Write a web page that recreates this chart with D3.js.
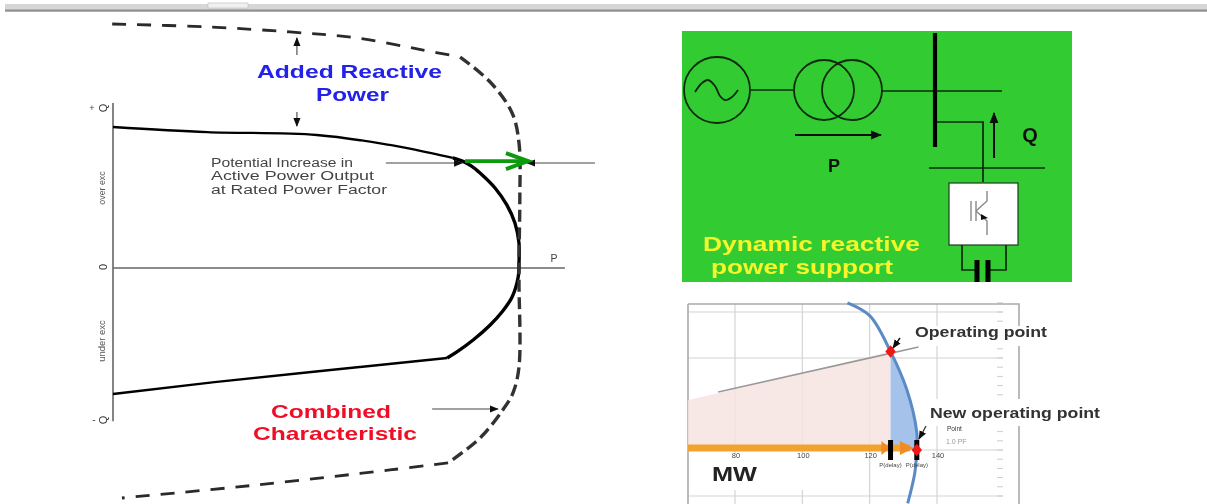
<!DOCTYPE html>
<html><head><meta charset="utf-8">
<script src="https://cdn.jsdelivr.net/npm/d3@7"></script>
<style>html,body{margin:0;padding:0;background:#fff;overflow:hidden}svg{display:block}text{font-family:"Liberation Sans",Arial,sans-serif}</style>
</head><body><svg id="c" width="1207" height="504"></svg>
<script>
// ---- Capability chart (P, Q in % of rating)
const baseTop=[[0,86.5],[23.2,83.4],[50.2,81.6],[68.2,75.5],[78.1,70.6],[83.7,67.5]];
const baseNose=[[78.1,70.6],[83.7,67.5],[86.2,65.4],[88.4,62.4],[90.4,58.3],[94.1,49.1],[97,38.7],[99,27.6],[100,15.3],[100,3.1],[99.8,-5.5],[98.3,-17.8],[95.8,-27],[92.9,-35],[88.7,-44.2],[84.7,-51.5],[82.3,-55.2]];
const baseTail=[[82.3,-55.2],[50,-63.5],[25,-70],[0,-77.3]];
const combinedTop=[[-0.2,149.7],[23.2,147.9],[43.6,144.8],[60.1,141.1],[76.4,133.7],[85.5,129.4]];
const combinedNose=[[85.5,129.4],[92.9,114.1],[98.3,95.1],[100,76.7],[100.2,41.7],[100,6.7],[100,-9.2],[100,-60.7],[98.5,-76.7],[96,-87.1],[90.4,-104.3],[82.5,-119.6]];
const combinedTail=[[82.5,-119.6],[68.2,-123.9],[35.5,-133.1],[2.2,-141.1]];
const leftArrows=[
 {a:[45.3,130.7],b:[45.3,141.1]},{a:[45.3,95.7],b:[45.3,87.1]},
 {a:[67.2,64.4],b:[86,64.4]},{a:[118.7,64.4],b:[102,64.4]},{a:[78.6,-86.5],b:[94.8,-86.5]}];
const greenArrow=[[86.7,65.6],[102.2,65.6]];
const annotation=["Potential Increase in","Active Power Output","at Rated Power Factor"];
// ---- Operating-point chart (MW, Mvar)
const mwTicks=[80,100,120,140];
const qGrid=[75,50,0,-25];
const qMinor=[80,75,70,60,55,50,45,40,35,30,25,20,15,10,5,0,-5,-10,-15,-20,-25,-30];
const pqCurve=[[113.4,80],[120,73],[126.2,53.5],[131,33],[134,9.5],[134,0],[133.4,-12.5],[131.3,-29]];
const blueArea=[[126.2,53.5],[131,33],[134,9.5],[134,0],[126.2,0]];
const pinkArea=[[66,27],[126.2,53.5],[126.2,0],[66,0]];
const loadLine=[[75,31.5],[134.5,56]];
const opPoints=[[126.2,53.5],[134,0]];
// ---- Single-line schematic (panel units)
const schematicLines=[[[69,59],[112,59]],[[200,60],[320,60]],[[253,91],[301,91],[301,151]],[[247,137],[363,137]],[[280,214],[280,239],[295,239]],[[324,214],[324,239],[306,239]]];
const transformerCircles=[[142,59,30],[170,59,30]];
const sineWave=[[13,61],[20,52],[26,49],[33,55],[38,65],[43,69],[50,66],[56,59]];

const svg=d3.select("#c");
const defs=svg.append("defs");
const f=defs.append("filter").attr("id","b").attr("x","-2%").attr("y","-2%").attr("width","104%").attr("height","104%").attr("filterUnits","objectBoundingBox");
f.append("feGaussianBlur").attr("stdDeviation",0.65);
const marker=(id,c,s)=>defs.append("marker").attr("id",id).attr("viewBox","0 0 10 10").attr("refX",9).attr("refY",5).attr("markerUnits","userSpaceOnUse").attr("markerWidth",s).attr("markerHeight",s).attr("orient","auto").append("path").attr("d","M0,1L10,5L0,9Z").attr("fill",c);
marker("k","#111",9);marker("k2","#111",11);

const root=svg.append("g").attr("filter","url(#b)");
root.append("rect").attr("x",0).attr("y",0).attr("width",1207).attr("height",504).attr("fill","#fff");
// window strip
root.append("rect").attr("x",5).attr("y",4).attr("width",1202).attr("height",6).attr("fill","#d6d6d6");
root.append("rect").attr("x",5).attr("y",9.5).attr("width",1202).attr("height",2.2).attr("fill","#8f8f8f");
root.append("rect").attr("x",208).attr("y",3).attr("width",40).attr("height",5).attr("fill","#f0f0f0").attr("stroke","#bbb").attr("stroke-width",.6);

// ==== left chart
const xP=d3.scaleLinear().domain([0,100]).range([113,519]);
const yQ=d3.scaleLinear().domain([-100,100]).range([431,105]);
const L=root.append("g");
const ln=d3.line().x(d=>xP(d[0])).y(d=>yQ(d[1]));
const smooth=d3.curveCatmullRom.alpha(.5);
L.append("line").attr("x1",xP(0)).attr("x2",xP(0)).attr("y1",103).attr("y2",yQ(-94)).attr("stroke","#666").attr("stroke-width",1.6);
L.append("line").attr("x1",xP(0)).attr("x2",xP(111.3)).attr("y1",yQ(0)).attr("y2",yQ(0)).attr("stroke","#666").attr("stroke-width",1.6);
L.append("text").attr("x",92).attr("y",111).attr("text-anchor","middle").attr("font-size",9).attr("fill","#444").text("+");
L.append("text").attr("transform","translate(107,108) rotate(-90)").attr("text-anchor","middle").attr("font-size",11).attr("fill","#333").text("Q");
L.append("text").attr("transform","translate(107,267) rotate(-90)").attr("text-anchor","middle").attr("font-size",11).attr("fill","#333").text("0");
L.append("text").attr("x",94).attr("y",423).attr("text-anchor","middle").attr("font-size",10).attr("fill","#444").text("-");
L.append("text").attr("transform","translate(107,420) rotate(-90)").attr("text-anchor","middle").attr("font-size",11).attr("fill","#333").text("Q");
L.append("text").attr("transform","translate(105,188) rotate(-90)").attr("text-anchor","middle").attr("font-size",8.8).attr("fill","#555").text("over exc");
L.append("text").attr("transform","translate(105,341) rotate(-90)").attr("text-anchor","middle").attr("font-size",9.5).attr("fill","#555").text("under exc");
L.append("text").attr("x",554).attr("y",262).attr("text-anchor","middle").attr("font-size",10.5).attr("fill","#444").text("P");
L.append("path").attr("d",ln.curve(smooth)(baseTop)).attr("fill","none").attr("stroke","#000").attr("stroke-width",2.3);
L.append("path").attr("d",ln.curve(smooth)(baseNose.slice(1))).attr("fill","none").attr("stroke","#000").attr("stroke-width",3.4);
L.append("path").attr("d",ln.curve(d3.curveLinear)(baseTail)).attr("fill","none").attr("stroke","#000").attr("stroke-width",2.4);
L.append("path").attr("d",ln.curve(smooth)(combinedTop)).attr("fill","none").attr("stroke","#2a2a2a").attr("stroke-width",2.8).attr("stroke-dasharray","14 11");
L.append("path").attr("d",ln.curve(smooth)(combinedNose)).attr("fill","none").attr("stroke","#333").attr("stroke-width",3.4).attr("stroke-dasharray","12 5.5");
L.append("path").attr("d",ln.curve(smooth)(combinedTail)).attr("fill","none").attr("stroke","#2a2a2a").attr("stroke-width",2.8).attr("stroke-dasharray","14 11");
leftArrows.forEach(d=>L.append("line").attr("x1",xP(d.a[0])).attr("y1",yQ(d.a[1])).attr("x2",xP(d.b[0])).attr("y2",yQ(d.b[1])).attr("stroke","#444").attr("stroke-width",1.1).attr("marker-end","url(#k)"));
const g0=greenArrow[0],g1=greenArrow[1];
L.append("line").attr("x1",xP(g0[0])).attr("y1",yQ(g0[1])).attr("x2",xP(g1[0])).attr("y2",yQ(g1[1])).attr("stroke","#119a11").attr("stroke-width",3.8);
L.append("path").attr("d",`M${xP(g1[0])-22},${yQ(g1[1])-8}L${xP(g1[0])},${yQ(g1[1])}L${xP(g1[0])-22},${yQ(g1[1])+8}`).attr("fill","none").attr("stroke","#119a11").attr("stroke-width",4);
const lab=(p,txt,x,y,w,fs,fill,weight)=>p.append("text").attr("x",x).attr("y",y).attr("font-size",fs).attr("fill",fill).attr("font-weight",weight||"normal").attr("textLength",w).attr("lengthAdjust","spacingAndGlyphs").text(txt);
[[211,167,142],[211,180,163],[211,194,176]].forEach((d,i)=>lab(L,annotation[i],d[0],d[1],d[2],12.5,"#444"));
lab(L,"Added Reactive",257,78,185,19,"#2020e8","bold");
lab(L,"Power",316,101,73,19,"#2020e8","bold");
lab(L,"Combined",271,418,120,19,"#f01028","bold");
lab(L,"Characteristic",253,440,164,19,"#f01028","bold");

// ==== schematic panel
const sx=d3.scaleLinear().domain([0,390]).range([682,1072]);
const sy=d3.scaleLinear().domain([0,251]).range([31,282]);
const S=root.append("g");
const sl=d3.line().x(d=>sx(d[0])).y(d=>sy(d[1]));
const ink="#0a2a0a";
S.append("rect").attr("x",sx(0)).attr("y",sy(0)).attr("width",390).attr("height",251).attr("fill","#33cc33");
S.append("circle").attr("cx",sx(35)).attr("cy",sy(59)).attr("r",33).attr("fill","none").attr("stroke",ink).attr("stroke-width",1.8);
S.append("path").attr("d",sl.curve(smooth)(sineWave)).attr("fill","none").attr("stroke",ink).attr("stroke-width",1.8);
transformerCircles.forEach(c=>S.append("circle").attr("cx",sx(c[0])).attr("cy",sy(c[1])).attr("r",c[2]).attr("fill","none").attr("stroke",ink).attr("stroke-width",1.8));
schematicLines.forEach(p=>S.append("path").attr("d",sl.curve(d3.curveLinear)(p)).attr("fill","none").attr("stroke",ink).attr("stroke-width",1.7));
S.append("line").attr("x1",sx(253)).attr("x2",sx(253)).attr("y1",sy(2)).attr("y2",sy(116)).attr("stroke","#000").attr("stroke-width",4.2);
S.append("line").attr("x1",sx(113)).attr("y1",sy(104)).attr("x2",sx(199)).attr("y2",sy(104)).attr("stroke","#111").attr("stroke-width",2).attr("marker-end","url(#k2)");
S.append("line").attr("x1",sx(312)).attr("y1",sy(127)).attr("x2",sx(312)).attr("y2",sy(82)).attr("stroke","#111").attr("stroke-width",2).attr("marker-end","url(#k2)");
S.append("text").attr("x",sx(152)).attr("y",sy(141)).attr("text-anchor","middle").attr("font-size",18).attr("font-weight","bold").attr("fill","#111").text("P");
S.append("text").attr("x",sx(348)).attr("y",sy(111)).attr("text-anchor","middle").attr("font-size",20).attr("font-weight","bold").attr("fill","#111").text("Q");
S.append("rect").attr("x",sx(267)).attr("y",sy(152)).attr("width",69).attr("height",62).attr("fill","#fff").attr("stroke","#1b3b1b").attr("stroke-width",1.2);
[[[294,190],[294,170]],[[289,170],[289,190]],[[294,180],[305,170],[305,160]],[[294,180],[305,190],[305,204]]].forEach(p=>S.append("path").attr("d",sl.curve(d3.curveLinear)(p)).attr("fill","none").attr("stroke","#888").attr("stroke-width",1.4));
S.append("path").attr("d",sl.curve(d3.curveLinear)([[299,183],[306,187],[299,189]])).attr("fill","#111");
[[295,229],[306,229]].forEach(d=>S.append("line").attr("x1",sx(d[0])).attr("x2",sx(d[0])).attr("y1",sy(d[1])).attr("y2",sy(251)).attr("stroke","#000").attr("stroke-width",5));
lab(S,"Dynamic reactive",sx(21),sy(220),217,21,"#f6f62a","bold");
lab(S,"power support",sx(29),sy(243),182,21,"#f6f62a","bold");

// ==== operating-point chart
const xM=d3.scaleLinear().domain([80,140]).range([735,937]);
const yV=d3.scaleLinear().domain([0,50]).range([450,358]);
const B=root.append("g");
const ol=d3.line().x(d=>xM(d[0])).y(d=>yV(d[1]));
mwTicks.forEach(m=>B.append("line").attr("x1",xM(m)).attr("x2",xM(m)).attr("y1",304).attr("y2",504).attr("stroke","#d4d4d4").attr("stroke-width",1.2));
qGrid.forEach(q=>B.append("line").attr("x1",688).attr("x2",1003).attr("y1",yV(q)).attr("y2",yV(q)).attr("stroke","#d4d4d4").attr("stroke-width",1.2));
qMinor.forEach(q=>B.append("line").attr("x1",997).attr("x2",1003).attr("y1",yV(q)).attr("y2",yV(q)).attr("stroke","#ccc").attr("stroke-width",1));
B.append("rect").attr("x",690).attr("y",453).attr("width",170).attr("height",37).attr("fill","#fff");
B.append("path").attr("d",`M688,304H1019V504M688,304V504`).attr("fill","none").attr("stroke","#aaa").attr("stroke-width",1.6);
B.append("path").attr("d",ol.curve(d3.curveLinear)(pinkArea)).attr("fill","#f6e4e2").attr("fill-opacity",.85);
B.append("path").attr("d",ol.curve(d3.curveLinear)(blueArea)+"Z").attr("fill","#a5c2ea");
B.append("path").attr("d",ol.curve(d3.curveLinear)(loadLine)).attr("fill","none").attr("stroke","#999").attr("stroke-width",1.6);
B.append("path").attr("d",ol.curve(smooth)(pqCurve)).attr("fill","none").attr("stroke","#5b8ac6").attr("stroke-width",3);
B.append("rect").attr("x",913).attr("y",326).attr("width",135).attr("height",20).attr("fill","#fff");
B.append("rect").attr("x",930).attr("y",399).attr("width",170).attr("height",27).attr("fill","#fff");
// orange arrows
B.append("rect").attr("x",688).attr("y",yV(0)-5.5).attr("width",xM(132)-688).attr("height",7).attr("fill","#f3a22f");
[[123.5,126],[129,133]].forEach(h=>B.append("path").attr("d",`M${xM(h[0])},${yV(0)-9}L${xM(h[1])},${yV(0)-2}L${xM(h[0])},${yV(0)+5}Z`).attr("fill","#f08c28"));
opPoints.forEach(p=>B.append("rect").attr("x",xM(p[0])-2.5).attr("y",yV(0)-10).attr("width",5).attr("height",20).attr("fill","#000"));
opPoints.forEach(p=>B.append("path").attr("d",d3.symbol(d3.symbolDiamond,45)()).attr("transform",`translate(${xM(p[0])},${yV(p[1])}) scale(1.45,1)`).attr("fill","#f01818"));
mwTicks.forEach(m=>B.append("text").attr("x",xM(m)+1).attr("y",458).attr("text-anchor","middle").attr("font-size",7.5).attr("fill","#444").text(m));
[126.2,134].forEach(m=>B.append("text").attr("x",xM(m)).attr("y",467).attr("text-anchor","middle").attr("font-size",6).attr("fill","#444").text("P(delay)"));
B.append("text").attr("x",947).attr("y",431).attr("font-size",6.5).attr("fill","#333").text("Point");
B.append("text").attr("x",946).attr("y",444).attr("font-size",7).attr("fill","#999").text("1.0 PF");
B.append("line").attr("x1",900).attr("y1",338).attr("x2",893).attr("y2",348).attr("stroke","#111").attr("stroke-width",1.4).attr("marker-end","url(#k)");
B.append("line").attr("x1",926).attr("y1",426).attr("x2",919).attr("y2",439).attr("stroke","#333").attr("stroke-width",1.3).attr("marker-end","url(#k)");
lab(B,"Operating point",915,337,132,15,"#333","bold");
lab(B,"New operating point",930,418,170,15,"#333","bold");
lab(B,"MW",712,481,45,20,"#222","bold");
</script></body></html>
